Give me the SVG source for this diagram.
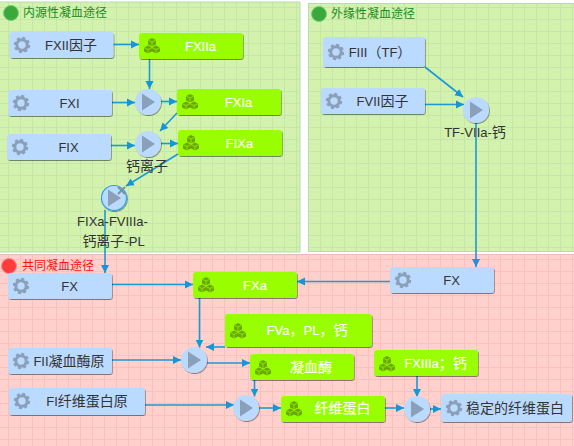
<svg xmlns="http://www.w3.org/2000/svg" width="574" height="446" viewBox="0 0 574 446">
<style>
text{font-family:"Liberation Sans","Noto Sans CJK SC",sans-serif;font-size:13px;text-anchor:middle}
tspan{font-size:14px}
.lbl{fill:#333}
.w{fill:#fff;stroke:#fff;stroke-width:.15}
.t{font-size:12px;text-anchor:start}
.task{fill:#bbdaff;filter:url(#sh)}
.res{fill:#99ff00;filter:url(#sh)}
.c{fill:none;stroke:#1d9ad6;stroke-width:1.6;marker-end:url(#ah)}
.pc{fill:#bbdaff;filter:url(#sh)}
</style>
<defs>
<filter id="sh" x="-10%" y="-10%" width="120%" height="130%"><feDropShadow dx="0.7" dy="1" stdDeviation="0.7" flood-color="#000" flood-opacity="0.45"/></filter>
<marker id="ah" markerUnits="userSpaceOnUse" markerWidth="9" markerHeight="9" refX="8" refY="4.500" orient="auto"><path d="M0 .5L8 4.500L0 8.500Z" fill="#1496d8"/></marker>
<pattern id="gg" width="12" height="12" patternUnits="userSpaceOnUse" patternTransform="translate(8 7)"><rect width="12" height="12" fill="#d2f2ae"/><path d="M.5 0V12M0 .5H12" stroke="#c4e6aa" stroke-width="1" fill="none"/></pattern>
<pattern id="gr" width="12" height="12" patternUnits="userSpaceOnUse" patternTransform="translate(8 7)"><rect width="12" height="12" fill="#ffd0cc"/><path d="M.5 0V12M0 .5H12" stroke="#f7c2be" stroke-width="1" fill="none"/></pattern>
<g id="gear" fill="none" stroke="#8a9fb8"><circle r="5.200" stroke-width="3"/><circle r="7" stroke-width="2.400" stroke-dasharray="3 2.500"/></g>
<g id="cubes"><path fill="#6aa800" d="M0-8 4-6V-1.500L0 .5-4-1.500V-6ZM-4-.5 0 1.500V5.500L-4 7.500-8 5.500V1.500ZM4-.5 8 1.500V5.500L4 7.500 0 5.500V1.500Z"/><path d="M-4-6 0-4 4-6M0-4V.5M-8 1.500-4 3.500 0 1.500M-4 3.500V7.500M0 1.500 4 3.500 8 1.500M4 3.500V7.500" stroke="#99ff00" stroke-width=".7" fill="none"/></g>
<g id="play"><circle class="pc" r="13"/><path d="M-6-8.500 7 0-6 8.500Z" fill="#8a9fb8"/></g>
</defs>

<rect width="574" height="446" fill="#fff"/>
<g id="panel-intrinsic"><rect x="-1" y="2" width="301" height="250" fill="url(#gg)" stroke="#b6dcb6"/><circle cx="11" cy="13" r="7.500" fill="#3aa83a" stroke="#7ccb7c"/><text class="t" x="23" y="17" fill="#1e8c1e">内源性凝血途径</text></g>
<g id="panel-extrinsic"><rect x="308.500" y="3.500" width="266" height="248" fill="url(#gg)" stroke="#b6dcb6"/><circle cx="319" cy="14" r="7.500" fill="#3aa83a" stroke="#7ccb7c"/><text class="t" x="331" y="18" fill="#1e8c1e">外缘性凝血途径</text></g>
<g id="panel-common"><rect x="-1" y="254.500" width="576" height="192" fill="url(#gr)" stroke="#f0b8b4"/><circle cx="9" cy="266" r="7.500" fill="#ff3b3b" stroke="#ff8a8a"/><text class="t" x="22" y="270" fill="#ff1010">共同凝血途径</text></g>

<g id="connectors">
<path class="c" d="M113 44.500H139"/>
<path class="c" d="M149.500 59V89"/>
<path class="c" d="M112 102.500H135"/>
<path class="c" d="M161 101.500H177"/>
<path class="c" d="M177 113L160 131"/>
<path class="c" d="M111 145.500H135"/>
<path class="c" d="M161 143.500H178"/>
<path class="c" d="M178 154L126 186"/>
<path class="c" d="M105 210V273"/>
<path class="c" d="M112 284.500H193"/>
<path class="c" d="M390 281.500H297"/>
<path class="c" d="M425 67L463 97"/>
<path class="c" d="M425 104.500H464"/>
<path class="c" d="M199.500 298V347.500"/>
<path class="c" d="M225 347H206"/>
<path class="c" d="M112 360H181"/>
<path class="c" d="M207 363H250"/>
<path class="c" d="M254.500 380V396.500"/>
<path class="c" d="M145 405H234"/>
<path class="c" d="M259 408H281"/>
<path class="c" d="M385 408H404"/>
<path class="c" d="M417 376V397"/>
<path class="c" d="M430 409H441"/>
<path class="c" d="M476 123V267"/>
</g>

<g id="n-fxii"><rect class="task" x="9.500" y="32" width="104" height="26" rx="3"/><use href="#gear" x="22" y="45"/><text class="lbl" x="71" y="49.500">FXII<tspan>因子</tspan></text></g>
<g id="n-fxiia"><rect class="res" x="139" y="33" width="104" height="26" rx="3"/><use href="#cubes" x="152" y="46"/><text class="w" x="200.500" y="51">FXIIa</text></g>
<g id="n-fxi"><rect class="task" x="8" y="90" width="104" height="26" rx="3"/><use href="#gear" x="21" y="103"/><text class="lbl" x="69.500" y="108">FXI</text></g>
<g id="n-fxia"><rect class="res" x="177" y="89" width="104" height="26" rx="3"/><use href="#cubes" x="190" y="102"/><text class="w" x="238.500" y="107">FXIa</text></g>
<g id="n-fix"><rect class="task" x="7" y="134" width="104" height="26" rx="3"/><use href="#gear" x="20" y="147"/><text class="lbl" x="68.500" y="152">FIX</text></g>
<g id="n-fixa"><rect class="res" x="178" y="130" width="104" height="26" rx="3"/><use href="#cubes" x="191" y="143"/><text class="w" x="239.500" y="148">FIXa</text></g>
<g id="n-p1"><use href="#play" x="148" y="102"/></g>
<g id="n-p2"><use href="#play" x="148" y="144"/><text class="lbl" x="147" y="171"><tspan>钙离子</tspan></text></g>
<g id="n-p3"><use href="#play" x="114" y="198"/><circle cx="114" cy="198" r="12.500" fill="none" stroke="#2f9fe6" stroke-width="1.200"/><path d="M118 187L125 194M125 187L118 194" stroke="#7a8ea6" stroke-width="1.800"/><text class="lbl" x="112.500" y="226">FIXa-FVIIIa-</text><text class="lbl" x="113.500" y="246"><tspan>钙离子</tspan>-PL</text></g>
<g id="n-fiii"><rect class="task" x="323" y="37" width="102" height="30" rx="3"/><use href="#gear" x="336" y="52"/><text class="lbl" x="380" y="57">FIII<tspan>（</tspan>TF<tspan>）</tspan></text></g>
<g id="n-fvii"><rect class="task" x="321" y="88" width="104" height="26" rx="3"/><use href="#gear" x="334" y="101"/><text class="lbl" x="382.500" y="105.500">FVII<tspan>因子</tspan></text></g>
<g id="n-tf"><use href="#play" x="476" y="110"/><text class="lbl" x="475" y="137">TF-VIIa-<tspan>钙</tspan></text></g>
<g id="n-fx-l"><rect class="task" x="8" y="273" width="104" height="26" rx="3"/><use href="#gear" x="21" y="286"/><text class="lbl" x="69.500" y="291">FX</text></g>
<g id="n-fxa"><rect class="res" x="193" y="272" width="104" height="26" rx="3"/><use href="#cubes" x="206" y="285"/><text class="w" x="255" y="290">FXa</text></g>
<g id="n-fx-r"><rect class="task" x="390" y="267" width="104" height="26" rx="3"/><use href="#gear" x="403" y="280"/><text class="lbl" x="451.500" y="285">FX</text></g>
<g id="n-fva"><rect class="res" x="225" y="314" width="147" height="33" rx="3"/><use href="#cubes" x="238" y="331"/><text class="w" x="307" y="335">FVa<tspan>，</tspan>PL<tspan>，钙</tspan></text></g>
<g id="n-fii"><rect class="task" x="8" y="348" width="104" height="26" rx="3"/><use href="#gear" x="21" y="361"/><text class="lbl" x="69" y="365.500">FII<tspan>凝血酶原</tspan></text></g>
<g id="n-p4"><use href="#play" x="194" y="360"/></g>
<g id="n-thrombin"><rect class="res" x="250" y="354" width="104" height="26" rx="3"/><use href="#cubes" x="263" y="368"/><text class="w" x="311" y="372"><tspan>凝血酶</tspan></text></g>
<g id="n-fxiiia"><rect class="res" x="374" y="350" width="104" height="26" rx="3"/><use href="#cubes" x="387" y="364"/><text class="w" x="435.500" y="368">FXIIIa<tspan>；钙</tspan></text></g>
<g id="n-fi"><rect class="task" x="9" y="388" width="136" height="27" rx="3"/><use href="#gear" x="22" y="401"/><text class="lbl" x="87" y="406">FI<tspan>纤维蛋白原</tspan></text></g>
<g id="n-p5"><use href="#play" x="246" y="408"/></g>
<g id="n-fibrin"><rect class="res" x="281" y="396" width="104" height="26" rx="3"/><use href="#cubes" x="294" y="409"/><text class="w" x="342.500" y="413"><tspan>纤维蛋白</tspan></text></g>
<g id="n-p6"><use href="#play" x="417" y="409"/></g>
<g id="n-stable"><rect class="task" x="441" y="394" width="131" height="28" rx="3"/><use href="#gear" x="454" y="408"/><text class="lbl" x="515" y="413"><tspan>稳定的纤维蛋白</tspan></text></g>
</svg>
